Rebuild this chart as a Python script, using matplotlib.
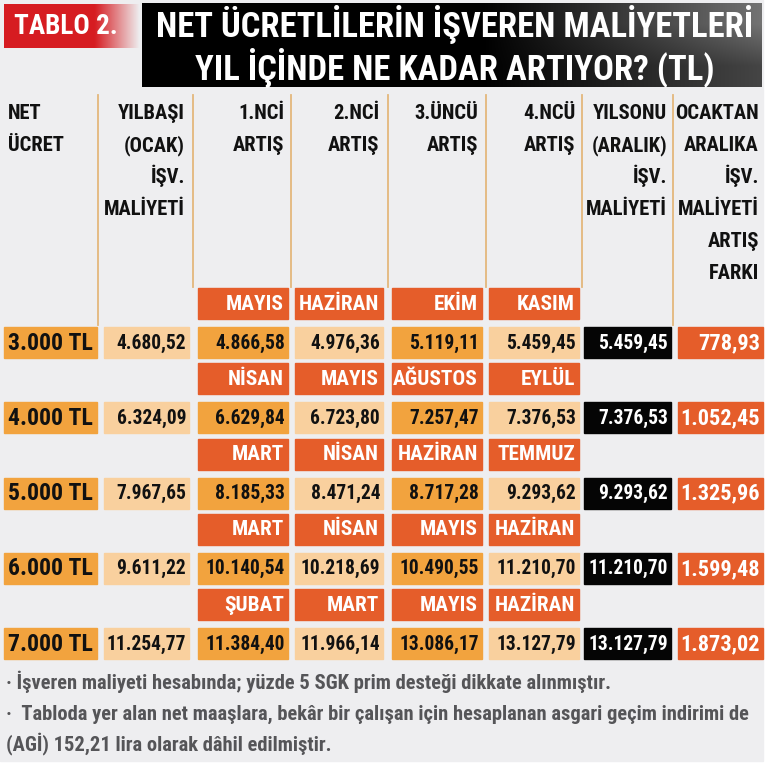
import numpy as np
import matplotlib
matplotlib.use("Agg")
import matplotlib.pyplot as plt
from matplotlib import font_manager as fm
from matplotlib.patches import Rectangle

# ---------------- data ----------------
net_labels = ["3.000 TL", "4.000 TL", "5.000 TL", "6.000 TL", "7.000 TL"]
ocak_cost = [4680.52, 6324.09, 7967.65, 9611.22, 11254.77]
raise1 = [4866.58, 6629.84, 8185.33, 10140.54, 11384.40]
raise2 = [4976.36, 6723.80, 8471.24, 10218.69, 11966.14]
raise3 = [5119.11, 7257.47, 8717.28, 10490.55, 13086.17]
raise4 = [5459.45, 7376.53, 9293.62, 11210.70, 13127.79]
yearend_cost = [5459.45, 7376.53, 9293.62, 11210.70, 13127.79]
diff = [778.93, 1052.45, 1325.96, 1599.48, 1873.02]
raise_months = [
    ["MAYIS", "HAZİRAN", "EKİM", "KASIM"],
    ["NİSAN", "MAYIS", "AĞUSTOS", "EYLÜL"],
    ["MART", "NİSAN", "HAZİRAN", "TEMMUZ"],
    ["MART", "NİSAN", "MAYIS", "HAZİRAN"],
    ["ŞUBAT", "MART", "MAYIS", "HAZİRAN"],
]
headers = [
    "NET\nÜCRET",
    "YILBAŞI\n(OCAK)\nİŞV.\nMALİYETİ",
    "1.NCİ\nARTIŞ",
    "2.NCİ\nARTIŞ",
    "3.ÜNCÜ\nARTIŞ",
    "4.NCÜ\nARTIŞ",
    "YILSONU\n(ARALIK)\nİŞV.\nMALİYETİ",
    "OCAKTAN\nARALIKA\nİŞV.\nMALİYETİ\nARTIŞ\nFARKI",
]
title_tag = "TABLO 2."
title_text = "NET ÜCRETLİLERİN İŞVEREN MALİYETLERİ\nYIL İÇİNDE NE KADAR ARTIYOR? (TL)"
notes = [
    "· İşveren maliyeti hesabında; yüzde 5 SGK prim desteği dikkate alınmıştır.",
    "·  Tabloda yer alan net maaşlara, bekâr bir çalışan için hesaplanan asgari geçim indirimi de",
    "(AGİ) 152,21 lira olarak dâhil edilmiştir.",
]

# ---------------- font ----------------
names = {f.name for f in fm.fontManager.ttflist}
FONT = "DejaVu Sans"
STRETCH = "normal"
for cand in ["Liberation Sans Narrow", "DejaVu Sans Condensed", "Roboto Condensed",
             "Open Sans Condensed", "Noto Sans Condensed"]:
    if cand in names:
        FONT = cand
        break
else:
    for f in fm.fontManager.ttflist:
        if f.name == "DejaVu Sans" and "ondensed" in str(f.stretch):
            STRETCH = "condensed"
            break


def fmt(v):
    s = f"{v:,.2f}"
    return s.replace(",", "X").replace(".", ",").replace("X", ".")


# ---------------- figure ----------------
W, H = 770, 767
fig = plt.figure(figsize=(W / 100, H / 100), dpi=100, facecolor="white")
ax = fig.add_axes([0, 0, 1, 1])
ax.set_xlim(0, W)
ax.set_ylim(H, 0)
ax.axis("off")

BG = "#eeeef0"
ORANGE = "#f2a33e"
PEACH = "#f9d09e"
RED = "#e55d2a"
BLACK = "#050505"
LINE = "#e3b77c"

ax.add_patch(Rectangle((0, 0), 763, 761, color=BG, zorder=0))

renderer = fig.canvas.get_renderer()
groups = {}


def put(x, y, s, size, group=None, maxw=None, **kw):
    t = ax.text(x, y, s, fontsize=size, family=FONT, fontstretch=STRETCH,
                fontweight="bold", **kw)
    if group is not None:
        groups.setdefault(group, []).append((t, maxw))
    return t


# title tag: red gradient box
grad = np.ones((1, 256, 4))
red_rgb = np.array([0.84, 0.11, 0.13])
alpha = np.clip((140 - np.linspace(4, 140, 256)) / 45, 0, 1)
grad[0, :, :3] = red_rgb
grad[0, :, 3] = alpha
ax.imshow(grad, extent=(4, 140, 48, 4), aspect="auto", zorder=1, interpolation="bilinear")
put(14, 27, title_tag, 22, group="tag", maxw=105, color="white", va="center", ha="left", zorder=3)

# title: black box with gradient to grey on right
g = np.zeros((2, 256, 3))
xs = np.linspace(0, 1, 256)
shade = np.clip((xs - 0.55) / 0.45, 0, 1) * 0.45
g[0, :, :] = shade[:, None]
g[1, :, :] = (shade * 0.6)[:, None]
ax.imshow(g, extent=(142, 762, 87, 3), aspect="auto", zorder=1, interpolation="bilinear")
put(455, 46, title_text, 28, group="title", maxw=600, color="white", ha="center", va="center",
    linespacing=1.08, zorder=3)

# column geometry (left, right)
cols = [(4, 97), (104, 189), (198, 288), (295, 383), (392, 482), (489, 579), (584, 671), (678, 763)]
seps = [98, 193, 291, 388, 486, 582, 673]
sep_bottom = [325, 287, 287, 287, 287, 287, 325]
for x, yb in zip(seps, sep_bottom):
    ax.plot([x, x], [95, yb], color=LINE, lw=1.3, zorder=1)

# headers: one text per line, at fixed baselines
head_base = 119
head_step = 32
for i, h in enumerate(headers):
    l, r = cols[i]
    for k, line in enumerate(h.split("\n")):
        y = head_base + head_step * k
        if i == 0:
            put(8, y, line, 21, group="head", maxw=90, color="#111111", ha="left",
                va="baseline")
        else:
            put(r - 4, y, line, 21, group="head", maxw=(r - l) - 1, color="#111111",
                ha="right", va="baseline")

# rows
period = 75.3
cell_colors = [ORANGE, PEACH, ORANGE, PEACH, ORANGE, PEACH, BLACK, RED]
for i in range(len(net_labels)):
    mt = 288 + period * i
    dt = 327 + period * i
    # month bands
    for j, m in enumerate(raise_months[i]):
        l, r = cols[2 + j]
        ax.add_patch(Rectangle((l, mt), r - l, 31, color=RED, zorder=2))
        put(r - 4, mt + 16, m, 17, group="month", maxw=(r - l) - 5, color="white",
            ha="right", va="center", zorder=3)
    vals = [net_labels[i], fmt(ocak_cost[i]), fmt(raise1[i]), fmt(raise2[i]),
            fmt(raise3[i]), fmt(raise4[i]), fmt(yearend_cost[i]), fmt(diff[i])]
    for j, v in enumerate(vals):
        l, r = cols[j]
        ax.add_patch(Rectangle((l, dt), r - l, 31, color=cell_colors[j], zorder=2))
        col = "white" if j >= 6 else "#111111"
        if j == 0:
            put(l + 4, dt + 16, v, 22, group="net", maxw=(r - l) - 8, color=col, ha="left",
                va="center", zorder=3)
        else:
            grp = "diff" if j == 7 else "num"
            put(r - 3, dt + 16, v, 22, group=grp, maxw=(r - l) - 5, color=col, ha="right",
                va="center", zorder=3)

# footnotes
note_y = [682, 714, 744]
for s, y in zip(notes, note_y):
    put(6, y, s, 17, group="note", maxw=750, color="#555558", ha="left", va="center")

# shrink each group uniformly so its widest member fits
for name, items in groups.items():
    for _ in range(3):
        ratio = 1.0
        for t, maxw in items:
            bb = t.get_window_extent(renderer=renderer)
            if bb.width > maxw:
                ratio = min(ratio, maxw / bb.width)
        if ratio >= 0.999:
            break
        for t, _m in items:
            t.set_fontsize(t.get_fontsize() * ratio * 0.995)

fig.savefig("out.png", dpi=100, facecolor="white")
